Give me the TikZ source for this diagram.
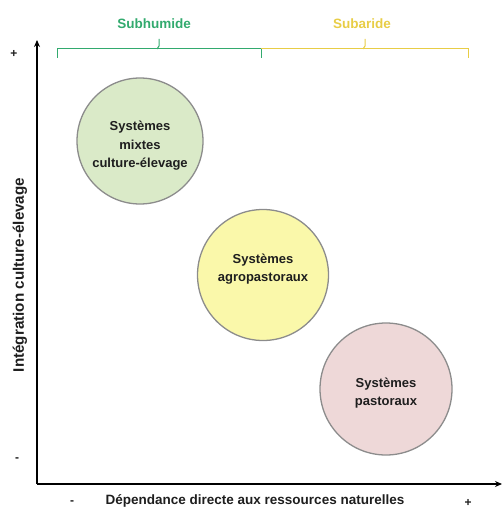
\documentclass[tikz,border=0pt]{standalone}
\usepackage{fontspec}
\setmainfont{Liberation Sans}
\usetikzlibrary{arrows.meta}
\definecolor{gfill}{RGB}{218,234,200}
\definecolor{yfill}{RGB}{250,248,170}
\definecolor{pfill}{RGB}{238,216,216}
\definecolor{ring}{RGB}{140,140,140}
\definecolor{subh}{RGB}{50,170,110}
\definecolor{suba}{RGB}{232,205,70}
\definecolor{ink}{RGB}{30,30,30}
\tikzset{
  sys/.style={circle, draw=ring, line width=1.3pt, inner sep=0pt},
  systxt/.style={align=center, font=\bfseries\fontsize{13}{18.5}\selectfont, text=ink},
  axis/.style={line width=1.5pt, -{Stealth[length=7pt,width=6pt]}},
  lbl/.style={font=\bfseries\fontsize{13.5}{15}\selectfont, text=ink},
  sign/.style={font=\bfseries\fontsize{12}{14}\selectfont, text=ink},
  brk/.style={line width=1pt}
}
\begin{document}
\begin{tikzpicture}[x=1pt,y=-1pt]
\useasboundingbox (0,0) rectangle (503,508);
% axes
\coordinate (O) at (37,484);
\coordinate (Ytop) at (37,40);
\coordinate (Xend) at (502,484);
\draw[axis] (O) -- (Ytop);
\draw[axis] (O) -- (Xend);
% signs
\node[sign] (yplus) at (14,54) {+};
\node[sign] (yminus) at (17,460) {-};
\node[sign] (xminus) at (72,503) {-};
\node[sign] (xplus) at (468,503) {+};
% axis labels
\node[lbl] (xlab) at (255,501) {Dépendance directe aux ressources naturelles};
\node[lbl, rotate=90, font=\bfseries\fontsize{15.2}{16}\selectfont] (ylab) at (20,275) {Intégration culture-élevage};
% brackets
\draw[brk, subh] (57,58) -- (57,49) -- (261,49) -- (261,58);
\draw[brk, subh] (157,49) -- (159,46) -- (159,39);
\draw[brk, suba] (261,49) -- (468,49) -- (468,58);
\draw[brk, suba] (363,49) -- (365,46) -- (365,39);
\node[font=\bfseries\fontsize{13.5}{15}\selectfont, text=subh] (subhum) at (154,24) {Subhumide};
\node[font=\bfseries\fontsize{13.5}{15}\selectfont, text=suba] (subar) at (362,24) {Subaride};
% circles
\node[sys, fill=gfill, minimum size=126pt] (mixte) at (140,141) {};
\node[sys, fill=yfill, minimum size=131pt] (agro) at (263,275) {};
\node[sys, fill=pfill, minimum size=132pt] (past) at (386,389) {};
\node[systxt] (mixtetxt) at ([yshift=-5pt]mixte.center) {Systèmes\\mixtes\\culture-élevage};
\node[systxt] (agrotxt) at ([yshift=6pt]agro.center) {Systèmes\\agropastoraux};
\node[systxt] (pasttxt) at ([yshift=-4pt]past.center) {Systèmes\\pastoraux};
\end{tikzpicture}
\end{document}
